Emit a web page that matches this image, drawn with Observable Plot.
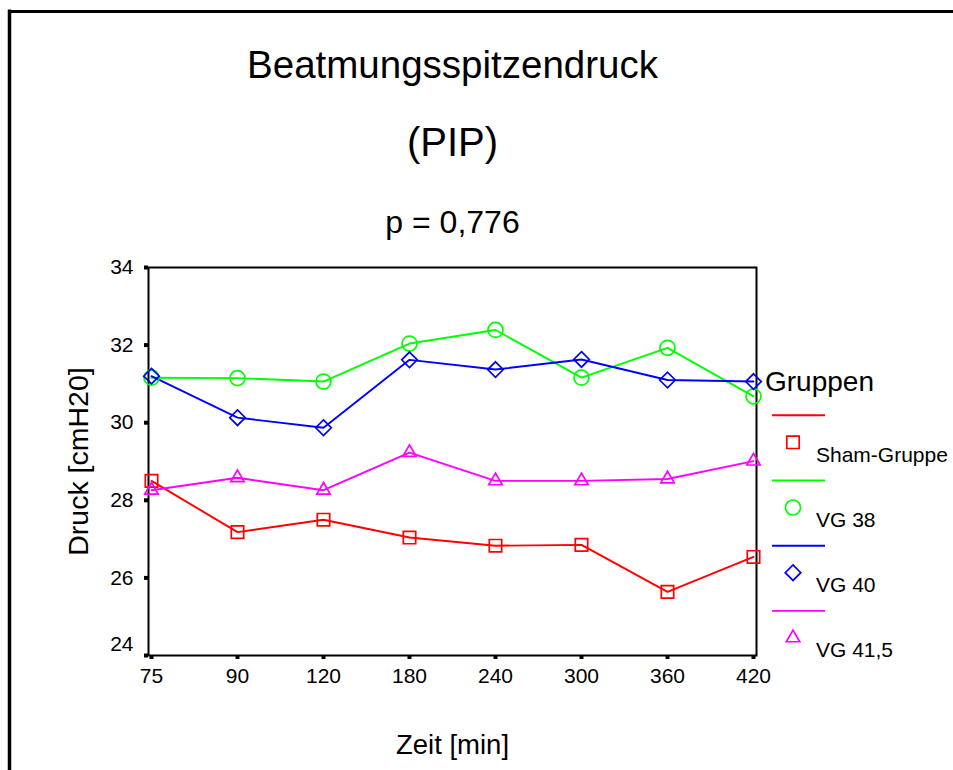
<!DOCTYPE html>
<html>
<head>
<meta charset="utf-8">
<script src="https://cdn.jsdelivr.net/npm/d3@7"></script>
<script src="https://cdn.jsdelivr.net/npm/@observablehq/plot@0.6"></script>
<style>
  html, body { margin: 0; padding: 0; background: white; overflow: hidden; }
  #chart { position: relative; width: 953px; height: 770px; overflow: hidden; }
  #chart svg { display: block; }
</style>
</head>
<body>
<div id="chart"></div>
<script>
// ---- data ----
const times = ["75", "90", "120", "180", "240", "300", "360", "420"];
const series = ["Sham-Gruppe", "VG 38", "VG 40", "VG 41,5"];
const sham  = [28.50, 27.18, 27.50, 27.04, 26.83, 26.85, 25.64, 26.54];
const vg38  = [31.16, 31.15, 31.06, 32.04, 32.39, 31.16, 31.93, 30.68];
const vg40  = [31.20, 30.13, 29.87, 31.62, 31.37, 31.63, 31.10, 31.06];
const vg415 = [28.26, 28.58, 28.26, 29.23, 28.50, 28.50, 28.55, 29.01];
const yTicks = [24, 26, 28, 30, 32, 34];
const title = "Beatmungsspitzendruck";
const subtitle = "(PIP)";
const pText = "p = 0,776";
const yLabel = "Druck [cmH20]";
const xLabel = "Zeit [min]";
const legendTitle = "Gruppen";

// ---- styles ----
const colors = ["#ff0000", "#00ff00", "#0000ff", "#ff00ff"];
const symbols = ["square", "circle", "diamond2", "triangle2"];
const d3symbols = [d3.symbolSquare, d3.symbolCircle, d3.symbolDiamond2, d3.symbolTriangle2];
const radii = [7, 7.5, 7, 6.4];

const values = [sham, vg38, vg40, vg415];
const rows = series.flatMap((s, i) => times.map((t, j) => ({time: t, value: values[i][j], group: s})));

const font = "'Liberation Sans', Arial, Helvetica, sans-serif";

const svg = Plot.plot({
  width: 953,
  height: 770,
  marginLeft: 148,
  marginRight: 197,
  marginTop: 267,
  marginBottom: 115,
  style: {fontFamily: font, background: "white", color: "black", overflow: "hidden"},
  x: {type: "point", domain: times, padding: 0, label: null},
  y: {domain: [24, 34], label: null},
  color: {domain: series, range: colors},
  symbol: {domain: series, range: symbols},
  marks: [
    Plot.frame({stroke: "black", strokeWidth: 2}),
    Plot.axisY(yTicks, {tickSize: 4, strokeWidth: 4, tickPadding: 11, fontSize: 21, label: null,
      tickFormat: d => d === 24 ? "" : String(d)}),
    Plot.axisY([24], {tickSize: 0, tickPadding: 15, fontSize: 21, label: null, dy: -11}),
    Plot.axisX({tickSize: 4, strokeWidth: 4, tickPadding: 9, fontSize: 21, label: null}),
    Plot.line(rows, {x: "time", y: "value", z: "group", stroke: "group", strokeWidth: 1.9}),
    ...series.map((s, i) => Plot.dot(rows.filter(d => d.group === s),
      {x: "time", y: "value", symbol: "group", stroke: "group", fill: "none", r: radii[i], strokeWidth: 1.7})),
    Plot.text([title], {text: d => d, frameAnchor: "top", dy: -190, lineAnchor: "bottom", fontSize: 38.5}),
    Plot.text([subtitle], {text: d => d, frameAnchor: "top", dy: -112, lineAnchor: "bottom", fontSize: 40}),
    Plot.text([pText], {text: d => d, frameAnchor: "top", dy: -35, lineAnchor: "bottom", fontSize: 32}),
    Plot.text([yLabel], {text: d => d, frameAnchor: "left", dx: -61, rotate: -90, textAnchor: "middle", lineAnchor: "bottom", fontSize: 28.5}),
    Plot.text([xLabel], {text: d => d, frameAnchor: "bottom", dy: 98, lineAnchor: "bottom", fontSize: 27.5})
  ]
});

document.getElementById("chart").appendChild(svg);

// ---- outer border (left and top edges) ----
const s = d3.select(svg);
s.append("line").attr("x1", 9.5).attr("x2", 9.5).attr("y1", 9.5).attr("y2", 770)
  .attr("stroke", "black").attr("stroke-width", 3.5);
s.append("line").attr("x1", 8).attr("x2", 953).attr("y1", 11.5).attr("y2", 11.5)
  .attr("stroke", "black").attr("stroke-width", 3);

// ---- legend ----
const lg = s.append("g").attr("font-family", font).attr("text-anchor", "start");
lg.append("text").attr("x", 765).attr("y", 391).attr("font-size", 28)
  .attr("text-anchor", "start").attr("fill", "black").text(legendTitle);
series.forEach((name, i) => {
  const y0 = 415.3 + 65.2 * i;
  lg.append("line").attr("x1", 772).attr("x2", 825).attr("y1", y0).attr("y2", y0)
    .attr("stroke", colors[i]).attr("stroke-width", 1.9);
  lg.append("path")
    .attr("d", d3.symbol(d3symbols[i], Math.PI * radii[i] * radii[i])())
    .attr("transform", `translate(793,${y0 + 27})`)
    .attr("fill", "none").attr("stroke", colors[i]).attr("stroke-width", 1.7);
  lg.append("text").attr("x", 816).attr("y", y0 + 46.5).attr("font-size", 21)
    .attr("text-anchor", "start").attr("fill", "black").text(name);
});
</script>
</body>
</html>
